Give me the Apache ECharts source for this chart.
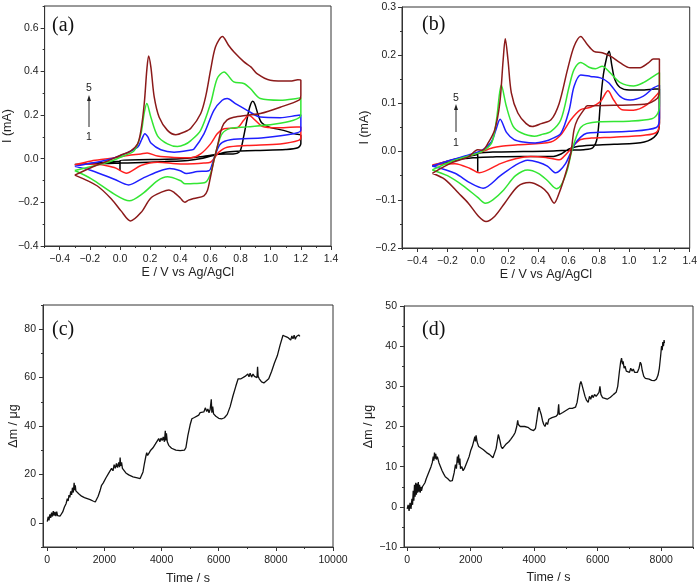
<!DOCTYPE html>
<html>
<head>
<meta charset="utf-8">
<title>CV / EQCM</title>
<style>
body{margin:0;background:#fff;}
#main{width:700px;height:588px;}
</style>
</head>
<body>
<div id="main"></div>
<script src="https://cdn.jsdelivr.net/npm/echarts@6/dist/echarts.min.js"></script>
<script>
// panel (a): cycles 1..5, points are [E (V), I (mA)]
var cvA1 = [[0,-0.055],[0,-0.008],[0.2,-0.004],[0.4,0.0],[0.55,0.01],[0.65,0.02],[0.75,0.022],[0.78,0.026],[0.8,0.04],[0.82,0.1],[0.84,0.17],[0.86,0.235],[0.88,0.263],[0.895,0.25],[0.915,0.205],[0.94,0.165],[0.99,0.145],[1.085,0.13],[1.16,0.114],[1.2,0.107],[1.2,0.07],[1.18,0.05],[1.1,0.042],[0.9,0.038],[0.8,0.035],[0.7,0.03],[0.62,0.015],[0.55,0.002],[0.45,-0.008],[0.3,-0.013],[0.1,-0.018],[0.0,-0.02],[-0.15,-0.023],[-0.3,-0.027],[-0.15,-0.02],[0.0,-0.012]];
var cvA2 = [[-0.3,-0.028],[-0.19,-0.01],[-0.08,0.0],[0.051,0.015],[0.139,0.022],[0.18,0.026],[0.249,0.012],[0.359,0.006],[0.47,0.005],[0.535,0.022],[0.601,0.068],[0.645,0.114],[0.69,0.137],[0.777,0.142],[0.821,0.176],[0.854,0.199],[0.898,0.176],[0.942,0.149],[1.041,0.142],[1.173,0.145],[1.2,0.145],[1.2,0.1],[1.185,0.084],[1.063,0.068],[0.843,0.061],[0.711,0.053],[0.656,0.03],[0.623,0.0],[0.6,-0.016],[0.557,-0.02],[0.447,-0.024],[0.403,-0.024],[0.249,-0.016],[0.139,-0.031],[0.04,-0.066],[-0.038,-0.04],[-0.19,-0.024],[-0.3,-0.028]];
var cvA3 = [[-0.3,-0.035],[-0.19,-0.02],[-0.08,-0.005],[0.03,0.022],[0.117,0.053],[0.145,0.09],[0.165,0.115],[0.185,0.1],[0.205,0.072],[0.271,0.041],[0.359,0.03],[0.47,0.04],[0.491,0.045],[0.557,0.114],[0.623,0.222],[0.678,0.268],[0.711,0.276],[0.766,0.253],[0.843,0.222],[0.931,0.191],[1.063,0.188],[1.173,0.198],[1.2,0.2],[1.2,0.13],[1.151,0.114],[0.953,0.096],[0.733,0.087],[0.667,0.068],[0.634,0.022],[0.612,-0.024],[0.59,-0.055],[0.513,-0.059],[0.44,-0.068],[0.4,-0.055],[0.33,-0.045],[0.25,-0.06],[0.15,-0.09],[0.057,-0.12],[-0.038,-0.094],[-0.19,-0.054],[-0.3,-0.035]];
var cvA4 = [[-0.3,-0.054],[-0.19,-0.035],[-0.08,-0.016],[0.03,0.015],[0.095,0.037],[0.139,0.114],[0.16,0.207],[0.178,0.253],[0.205,0.19],[0.249,0.105],[0.315,0.068],[0.381,0.056],[0.43,0.065],[0.47,0.083],[0.535,0.13],[0.601,0.253],[0.645,0.368],[0.69,0.398],[0.755,0.352],[0.821,0.345],[0.865,0.322],[0.931,0.276],[1.063,0.268],[1.173,0.276],[1.2,0.28],[1.2,0.2],[1.151,0.176],[1.019,0.158],[0.843,0.146],[0.733,0.139],[0.678,0.115],[0.645,0.053],[0.623,-0.008],[0.6,-0.07],[0.568,-0.108],[0.491,-0.114],[0.432,-0.115],[0.4,-0.1],[0.315,-0.083],[0.25,-0.1],[0.15,-0.16],[0.062,-0.193],[-0.038,-0.162],[-0.19,-0.092],[-0.3,-0.054]];
var cvA5 = [[-0.3,-0.075],[-0.19,-0.04],[-0.08,-0.01],[0.0,0.015],[0.07,0.035],[0.117,0.068],[0.139,0.13],[0.161,0.253],[0.178,0.407],[0.19,0.471],[0.205,0.42],[0.227,0.283],[0.26,0.19],[0.315,0.13],[0.37,0.11],[0.425,0.122],[0.47,0.14],[0.535,0.206],[0.57,0.29],[0.601,0.406],[0.634,0.513],[0.68,0.56],[0.72,0.52],[0.755,0.49],[0.821,0.445],[0.87,0.42],[0.909,0.39],[0.997,0.36],[1.13,0.356],[1.18,0.362],[1.2,0.36],[1.2,0.29],[1.19,0.27],[1.063,0.236],[0.931,0.207],[0.843,0.199],[0.755,0.19],[0.711,0.178],[0.678,0.145],[0.645,0.053],[0.623,-0.008],[0.6,-0.085],[0.58,-0.146],[0.557,-0.17],[0.491,-0.182],[0.455,-0.19],[0.43,-0.2],[0.4,-0.18],[0.36,-0.155],[0.325,-0.143],[0.28,-0.152],[0.205,-0.18],[0.139,-0.247],[0.07,-0.285],[0.007,-0.239],[-0.05,-0.19],[-0.15,-0.125],[-0.3,-0.075]];

// panel (b)
var cvB1 = [[0,-0.042],[0,-0.005],[0.1,-0.001],[0.3,0.0],[0.5,0.001],[0.6,0.003],[0.7,0.004],[0.76,0.008],[0.79,0.03],[0.81,0.1],[0.83,0.16],[0.855,0.2],[0.868,0.208],[0.885,0.18],[0.905,0.15],[0.94,0.133],[1.0,0.128],[1.1,0.128],[1.17,0.13],[1.2,0.13],[1.2,0.06],[1.18,0.035],[1.1,0.02],[0.9,0.015],[0.75,0.013],[0.65,0.01],[0.6,0.005],[0.55,-0.005],[0.5,-0.01],[0.3,-0.01],[0.1,-0.011],[0.0,-0.012],[-0.1,-0.015],[-0.2,-0.022],[-0.3,-0.03],[-0.2,-0.02],[-0.1,-0.012],[0.0,-0.006]];
var cvB2 = [[-0.3,-0.028],[-0.2,-0.02],[-0.1,-0.012],[0.0,-0.003],[0.1,0.008],[0.156,0.011],[0.265,0.014],[0.483,0.02],[0.549,0.035],[0.615,0.066],[0.68,0.087],[0.745,0.092],[0.811,0.104],[0.86,0.126],[0.898,0.107],[0.953,0.087],[1.029,0.086],[1.116,0.097],[1.183,0.118],[1.2,0.124],[1.2,0.06],[1.18,0.04],[1.1,0.034],[0.9,0.03],[0.75,0.028],[0.68,0.025],[0.64,0.015],[0.6,0.0],[0.57,-0.01],[0.54,-0.017],[0.45,-0.012],[0.35,-0.01],[0.25,-0.015],[0.15,-0.025],[0.01,-0.044],[-0.05,-0.035],[-0.15,-0.025],[-0.3,-0.028]];
var cvB3 = [[-0.3,-0.03],[-0.17,-0.017],[-0.06,-0.007],[0.03,0.003],[0.09,0.02],[0.12,0.045],[0.148,0.067],[0.19,0.04],[0.24,0.025],[0.3,0.02],[0.38,0.018],[0.45,0.022],[0.484,0.026],[0.549,0.038],[0.604,0.086],[0.636,0.135],[0.68,0.159],[0.745,0.156],[0.811,0.153],[0.865,0.143],[0.942,0.114],[1.007,0.107],[1.094,0.115],[1.16,0.132],[1.2,0.138],[1.2,0.07],[1.18,0.05],[1.0,0.042],[0.8,0.04],[0.72,0.038],[0.68,0.03],[0.64,0.015],[0.61,-0.005],[0.58,-0.025],[0.54,-0.04],[0.516,-0.044],[0.46,-0.03],[0.4,-0.022],[0.33,-0.018],[0.25,-0.028],[0.15,-0.05],[0.036,-0.076],[-0.05,-0.065],[-0.15,-0.045],[-0.3,-0.03]];
var cvB4 = [[-0.3,-0.038],[-0.17,-0.02],[-0.062,-0.009],[0.026,0.0],[0.092,0.018],[0.124,0.066],[0.156,0.138],[0.189,0.094],[0.233,0.053],[0.287,0.039],[0.374,0.032],[0.418,0.035],[0.484,0.042],[0.549,0.066],[0.604,0.135],[0.636,0.17],[0.68,0.185],[0.735,0.175],[0.778,0.172],[0.822,0.177],[0.876,0.163],[0.942,0.143],[1.029,0.136],[1.094,0.143],[1.16,0.156],[1.2,0.164],[1.2,0.1],[1.19,0.08],[1.15,0.068],[1.0,0.063],[0.8,0.062],[0.72,0.058],[0.68,0.05],[0.65,0.03],[0.62,0.0],[0.59,-0.04],[0.55,-0.07],[0.52,-0.077],[0.46,-0.06],[0.4,-0.045],[0.33,-0.038],[0.25,-0.05],[0.17,-0.08],[0.1,-0.1],[0.05,-0.107],[0.0,-0.095],[-0.1,-0.07],[-0.2,-0.05],[-0.3,-0.038]];
var cvB5 = [[-0.3,-0.045],[-0.17,-0.023],[-0.062,-0.011],[0.0,0.004],[0.03,0.003],[0.069,0.018],[0.113,0.046],[0.146,0.101],[0.168,0.19],[0.182,0.234],[0.2,0.19],[0.222,0.122],[0.265,0.08],[0.32,0.058],[0.36,0.052],[0.42,0.058],[0.484,0.066],[0.538,0.1],[0.593,0.17],[0.636,0.218],[0.68,0.239],[0.724,0.222],[0.767,0.208],[0.822,0.205],[0.876,0.198],[0.942,0.184],[1.007,0.174],[1.072,0.174],[1.127,0.184],[1.16,0.192],[1.2,0.192],[1.2,0.13],[1.185,0.11],[1.1,0.098],[0.9,0.096],[0.724,0.095],[0.702,0.087],[0.658,0.066],[0.636,0.045],[0.615,-0.003],[0.582,-0.044],[0.538,-0.086],[0.505,-0.107],[0.462,-0.086],[0.418,-0.073],[0.342,-0.064],[0.265,-0.072],[0.178,-0.107],[0.113,-0.134],[0.055,-0.145],[0.005,-0.134],[-0.062,-0.107],[-0.127,-0.086],[-0.215,-0.058],[-0.3,-0.045]];

// panel (c): mass change vs time
var timeC = [0,30,60,90,120,150,180,210,240,270,300,330,360,390,420,450,480,540,600,660,700,730,760,790,820,850,880,910,940,960,980,1000,1030,1060,1100,1200,1300,1400,1500,1600,1680,1720,1780,1840,1900,1960,2000,2050,2100,2150,2200,2250,2300,2340,2380,2420,2460,2500,2530,2550,2570,2600,2630,2680,2750,2850,3000,3150,3250,3300,3350,3400,3450,3480,3510,3560,3620,3700,3780,3850,3900,3940,3980,4020,4060,4100,4130,4150,4170,4200,4250,4350,4500,4650,4800,4850,4920,5000,5060,5100,5150,5200,5300,5350,5420,5480,5530,5580,5620,5660,5700,5740,5760,5790,5820,5900,6000,6100,6200,6300,6400,6500,6600,6680,6720,6780,6850,6920,6980,7020,7060,7100,7150,7200,7250,7300,7340,7360,7380,7420,7500,7580,7650,7750,7850,7950,8050,8150,8250,8300,8330,8380,8430,8480,8520,8560,8600,8640,8680,8720,8760,8800,8840];
var massC = [0.5,2.5,1.0,3.5,2.0,4.2,2.6,4.8,3.0,4.5,2.8,4.6,3.0,3.8,2.6,2.8,2.6,4.5,6.5,8.0,10.0,9.0,11.5,10.5,13.0,11.5,14.5,12.5,16.5,13.5,15.5,13.2,14.0,12.5,12.0,11.0,10.4,10.0,9.6,9.0,8.6,9.0,11.0,13.0,15.5,16.5,17.0,18.5,19.0,20.5,21.0,22.5,21.5,24.0,22.5,24.5,22.8,25.0,23.0,27.0,23.5,25.0,22.5,21.8,20.6,19.8,19.0,18.6,18.3,18.4,21.0,24.5,27.5,29.0,27.8,28.8,30.0,31.0,32.5,33.0,34.8,33.5,35.0,34.0,35.5,33.5,38.0,34.0,37.0,33.5,32.0,30.8,30.0,29.8,30.0,31.0,36.0,40.5,43.0,42.3,43.5,43.0,44.5,45.5,46.0,45.8,47.5,46.0,47.0,45.5,46.8,51.0,45.5,48.0,45.0,44.0,43.2,42.9,43.4,44.8,48.0,52.5,56.5,59.5,58.8,59.5,59.0,60.5,60.0,61.5,60.3,61.8,60.2,61.5,60.5,61.0,60.0,64.5,60.5,59.5,58.2,57.8,58.0,59.5,62.5,66.0,69.0,73.5,77.5,78.3,77.0,77.6,76.5,76.8,75.5,77.2,76.0,77.5,75.8,77.0,76.4,77.6,77.0];

// panel (d)
var timeD = [0,30,60,90,120,150,170,190,210,230,250,270,290,310,330,350,370,390,410,430,450,480,520,560,600,650,700,750,790,820,840,860,880,900,920,950,1000,1050,1100,1150,1200,1280,1350,1420,1480,1520,1550,1580,1600,1620,1640,1660,1680,1720,1760,1800,1850,1900,1950,2000,2050,2100,2130,2150,2170,2200,2250,2300,2400,2500,2600,2700,2760,2800,2840,2870,2890,2920,2960,3000,3040,3100,3150,3200,3260,3300,3350,3400,3450,3480,3500,3530,3560,3600,3700,3800,3900,3980,4040,4080,4120,4150,4180,4220,4260,4300,4340,4380,4420,4460,4500,4560,4620,4680,4740,4770,4790,4830,4900,5000,5100,5200,5300,5350,5400,5440,5470,5500,5550,5600,5650,5700,5740,5780,5820,5860,5900,5950,6000,6040,6070,6100,6150,6200,6300,6400,6500,6580,6630,6680,6720,6750,6780,6800,6830,6860,6900,6950,7000,7040,7080,7120,7160,7200,7250,7300,7340,7370,7400,7450,7500,7550,7620,7700,7780,7850,7900,7940,7980,8010,8030,8050,8070,8090,8100];
var massD = [-0.5,0.5,-1.0,1.0,-0.5,2.0,0.5,4.0,1.5,5.5,2.5,6.0,3.0,5.8,3.5,6.2,3.8,5.5,3.5,5.0,4.0,5.0,5.0,6.0,7.0,8.0,9.0,10.0,11.0,12.5,11.5,13.5,12.0,13.2,11.8,12.5,11.0,10.0,9.0,8.2,7.5,7.0,6.4,6.5,8.5,10.5,9.5,12.5,11.0,13.0,10.5,12.0,9.5,10.0,9.0,9.5,10.5,11.5,12.5,14.0,15.0,16.5,17.5,16.3,17.8,16.2,15.0,14.8,14.2,13.5,13.0,12.2,12.4,14.5,16.5,18.0,17.5,16.5,15.0,14.5,14.8,15.5,15.8,16.2,16.8,17.2,17.8,18.5,20.0,21.5,20.5,20.8,20.0,20.3,20.0,19.8,19.2,19.0,19.5,21.5,23.8,24.8,24.0,23.0,21.5,20.5,20.0,21.0,20.5,21.8,21.8,22.2,22.3,22.5,23.0,25.5,23.0,22.8,23.5,24.0,24.5,24.5,24.8,26.0,28.5,30.5,31.2,30.5,29.0,27.5,26.5,26.0,27.5,26.8,27.8,27.2,28.0,27.5,27.4,28.5,30.0,28.0,27.2,27.0,26.8,27.3,28.0,28.5,30.0,33.5,36.0,37.0,35.5,36.2,34.5,35.0,33.8,34.2,33.5,34.5,33.8,34.3,33.5,33.8,33.5,34.5,36.0,35.5,34.0,32.5,32.0,31.6,31.8,31.5,31.4,31.8,32.8,34.5,37.5,40.0,39.0,41.0,40.0,41.5,40.8];

// tick values
var eTicks = [-0.4,-0.2,0.0,0.2,0.4,0.6,0.8,1.0,1.2,1.4];
var eMinor = [-0.5,-0.3,-0.1,0.1,0.3,0.5,0.7,0.9,1.1,1.3];
var iTicksA = [-0.4,-0.2,0.0,0.2,0.4,0.6];
var iMinorA = [-0.3,-0.1,0.1,0.3,0.5,0.7];
var iTicksB = [-0.2,-0.1,0.0,0.1,0.2,0.3];
var iMinorB = [-0.15,-0.05,0.05,0.15,0.25];
var tTicksC = [0,2000,4000,6000,8000,10000];
var tMinorC = [1000,3000,5000,7000,9000];
var mTicksC = [0,20,40,60,80];
var mMinorC = [-10,10,30,50,70,90];
var tTicksD = [0,2000,4000,6000,8000];
var tMinorD = [1000,3000,5000,7000,9000];
var mTicksD = [-10,0,10,20,30,40,50];
var mMinorD = [-5,5,15,25,35,45];

var cycleColors = ['#000000','#ff1f1f','#1f1fff','#33e633','#8b1a1a'];
var axisColor = '#333';
var font = 'Liberation Sans, Arial, sans-serif';

function fmt1(v){ return (v < -1e-9 ? '\u2212' : '') + Math.abs(v).toFixed(1); }
function fmt0(v){ return (v < 0 ? '\u2212' : '') + Math.abs(v); }

// main axis with labels + overlaid axis carrying only the short minor ticks
function axisPair(dim, grid, min, max, majors, minors, fmt, name, nameGap, nameSize, labelMargin){
	var pos = dim == 'x' ? 'bottom' : 'left';
	var main = {
		type: 'value', gridIndex: grid, position: pos, min: min, max: max,
		name: name, nameLocation: 'middle', nameGap: nameGap,
		nameTextStyle: {fontFamily: font, fontSize: nameSize, color: '#222'},
		axisLine: {onZero: false, lineStyle: {color: axisColor, width: 1}},
		axisTick: {show: true, customValues: majors, length: 4, lineStyle: {color: axisColor}},
		axisLabel: {customValues: majors, formatter: fmt, margin: labelMargin, fontFamily: font, fontSize: 10.5, color: '#222'},
		splitLine: {show: false}
	};
	var minor = {
		type: 'value', gridIndex: grid, position: pos, min: min, max: max,
		axisLine: {show: false, onZero: false},
		axisTick: {show: true, customValues: minors, length: 2, lineStyle: {color: axisColor}},
		axisLabel: {show: false},
		splitLine: {show: false}
	};
	return [main, minor];
}

var grids = [
	{left: 43, top: 6, width: 288, height: 240},
	{left: 402, top: 7, width: 288, height: 241},
	{left: 43, top: 305, width: 290, height: 242},
	{left: 404, top: 306, width: 289, height: 241}
];
grids.forEach(function(g){ g.show = true; g.borderColor = axisColor; g.borderWidth = 1; g.backgroundColor = 'transparent'; });

var xAxes = [].concat(
	axisPair('x', 0, -0.5, 1.4, eTicks, eMinor, fmt1, 'E / V vs Ag/AgCl', 15, 12.5, 8),
	axisPair('x', 1, -0.5, 1.4, eTicks, eMinor, fmt1, 'E / V vs Ag/AgCl', 17, 12.5, 8),
	axisPair('x', 2, -150, 10000, tTicksC, tMinorC, fmt0, 'Time / s', 25, 12.5, 8),
	axisPair('x', 3, -100, 9000, tTicksD, tMinorD, fmt0, 'Time / s', 24, 12.5, 8)
);
var yAxes = [].concat(
	axisPair('y', 0, -0.4, 0.7, iTicksA, iMinorA, fmt1, 'I (mA)', 29, 12.5, 6),
	axisPair('y', 1, -0.2, 0.3, iTicksB, iMinorB, fmt1, 'I (mA)', 31, 12.5, 6),
	axisPair('y', 2, -10, 90, mTicksC, mMinorC, fmt0, '\u0394m / \u03bcg', 23, 12.5, 7),
	axisPair('y', 3, -10, 50, mTicksD, mMinorD, fmt0, '\u0394m / \u03bcg', 21, 12.5, 7)
);

var series = [];
function cvSeries(cycles, grid){
	cycles.forEach(function(d, i){
		series.push({
			type: 'line', xAxisIndex: grid * 2, yAxisIndex: grid * 2, data: d,
			symbol: 'none', smooth: 0.3, lineStyle: {color: cycleColors[i], width: 1.5}
		});
	});
}
cvSeries([cvA1, cvA2, cvA3, cvA4, cvA5], 0);
cvSeries([cvB1, cvB2, cvB3, cvB4, cvB5], 1);

function pairs(t, m){ return t.map(function(v, i){ return [v, m[i]]; }); }
series.push({type: 'line', xAxisIndex: 4, yAxisIndex: 4, data: pairs(timeC, massC), symbol: 'none', lineStyle: {color: '#111', width: 1.3}});
series.push({type: 'line', xAxisIndex: 6, yAxisIndex: 6, data: pairs(timeD, massD), symbol: 'none', lineStyle: {color: '#111', width: 1.3}});

// panel letters and the 1 -> 5 cycle arrows
function letter(txt, x, y){
	return {type: 'text', left: x, top: y, style: {text: txt, font: '20px "Liberation Serif", "Times New Roman", serif', fill: '#111'}};
}
function cycleArrow(x, y5, yTop, yBottom, y1){
	return [
		{type: 'text', x: x, y: y5, style: {text: '5', font: '10.5px ' + font, fill: '#222', align: 'center', verticalAlign: 'middle'}},
		{type: 'line', shape: {x1: x, y1: yBottom, x2: x, y2: yTop + 4}, style: {stroke: '#222', lineWidth: 1}},
		{type: 'polygon', shape: {points: [[x, yTop], [x - 2, yTop + 6], [x + 2, yTop + 6]]}, style: {fill: '#222'}},
		{type: 'text', x: x, y: y1, style: {text: '1', font: '10.5px ' + font, fill: '#222', align: 'center', verticalAlign: 'middle'}}
	];
}
var graphics = [letter('(a)', 52, 16), letter('(b)', 422, 15), letter('(c)', 52, 320), letter('(d)', 422, 320)]
	.concat(cycleArrow(89, 88, 95, 127, 137))
	.concat(cycleArrow(456, 98, 104, 132, 143));

var myChart = echarts.init(document.getElementById('main'), null, {renderer: 'canvas'});
myChart.setOption({
	animation: false,
	backgroundColor: '#fff',
	grid: grids,
	xAxis: xAxes,
	yAxis: yAxes,
	series: series,
	graphic: graphics
});
</script>
</body>
</html>
